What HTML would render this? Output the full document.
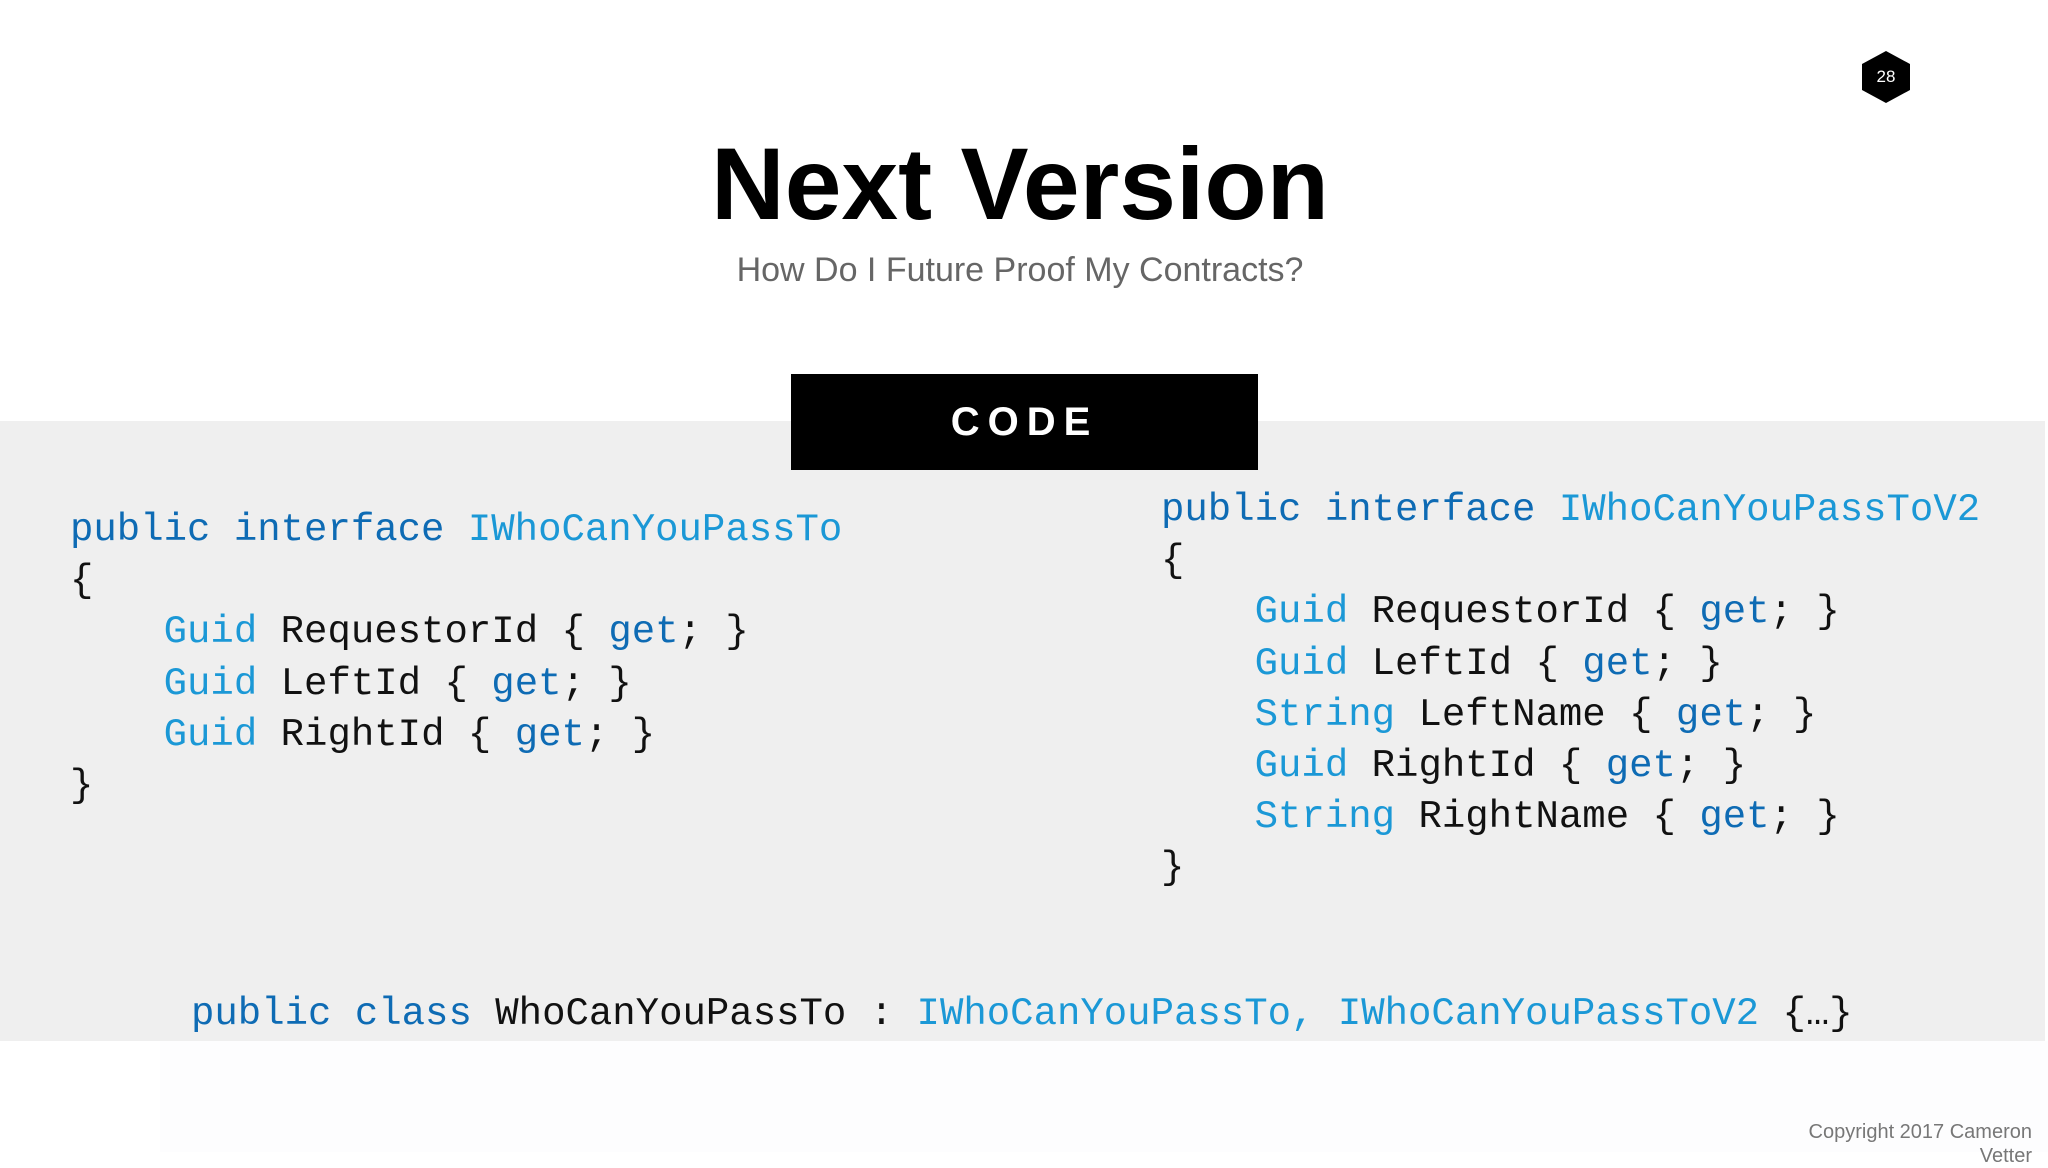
<!DOCTYPE html>
<html><head><meta charset="utf-8"><style>
body{margin:0;width:2048px;height:1152px;background:#fff;position:relative;overflow:hidden;font-family:"Liberation Sans",sans-serif}
.band{position:absolute;left:0;top:421px;width:2045px;height:620px;background:#efefef}
.fade{position:absolute;left:160px;top:1041px;width:1888px;height:111px;background:#fdfdfe}
.hex{position:absolute;left:1862px;top:51px;width:48px;height:52px;background:#000;clip-path:polygon(50% 0,100% 25%,100% 75%,50% 100%,0 75%,0 25%);color:#fff;font-size:17px;text-align:center;line-height:52px}
.title{position:absolute;left:0;width:2040px;top:119px;text-align:center;font-size:102px;font-weight:bold;color:#000;line-height:130px}
.sub{position:absolute;left:0;width:2040px;top:249px;text-align:center;font-size:34px;color:#666;line-height:42px}
.code{position:absolute;left:791px;top:374px;width:467px;height:96px;background:#000;color:#fff;font-weight:bold;font-size:40px;letter-spacing:8px;text-align:center;line-height:96px}
pre{position:absolute;margin:0;font-family:"Liberation Mono",monospace;font-size:39px;line-height:51.2px;color:#111}
.k{color:#0e6bb4}.t{color:#1b98d6}
.copy{position:absolute;right:16px;top:1120px;font-size:20px;color:#777;line-height:24px;white-space:nowrap;text-align:right}
</style></head><body>
<div class="band"></div><div class="fade"></div>
<div class="hex">28</div>
<div class="title">Next Version</div>
<div class="sub">How Do I Future Proof My Contracts?</div>
<div class="code">CODE</div>
<pre style="left:70px;top:505px"><span class="k">public interface</span> <span class="t">IWhoCanYouPassTo</span>
{
    <span class="t">Guid</span> RequestorId { <span class="k">get</span>; }
    <span class="t">Guid</span> LeftId { <span class="k">get</span>; }
    <span class="t">Guid</span> RightId { <span class="k">get</span>; }
}</pre>
<pre style="left:1161px;top:485px"><span class="k">public interface</span> <span class="t">IWhoCanYouPassToV2</span>
{
    <span class="t">Guid</span> RequestorId { <span class="k">get</span>; }
    <span class="t">Guid</span> LeftId { <span class="k">get</span>; }
    <span class="t">String</span> LeftName { <span class="k">get</span>; }
    <span class="t">Guid</span> RightId { <span class="k">get</span>; }
    <span class="t">String</span> RightName { <span class="k">get</span>; }
}</pre>
<pre style="left:191px;top:989px"><span class="k">public class</span> WhoCanYouPassTo : <span class="t">IWhoCanYouPassTo, IWhoCanYouPassToV2</span> {…}</pre>
<div class="copy">Copyright 2017 Cameron<br>Vetter</div>
</body></html>
